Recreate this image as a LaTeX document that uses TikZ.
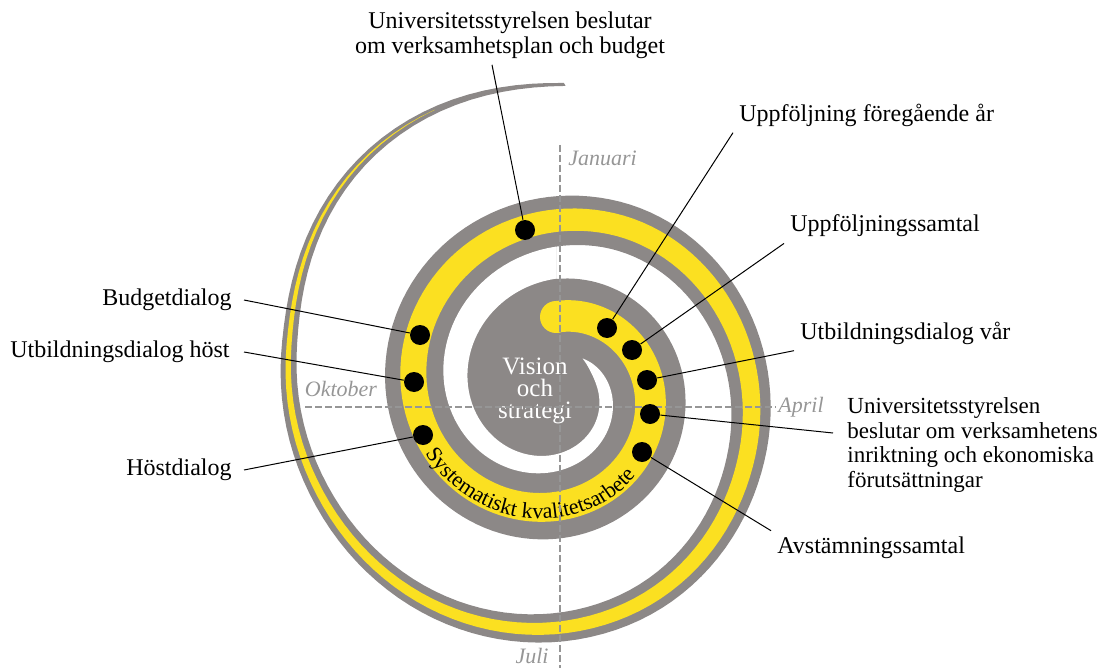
\documentclass[tikz,border=0pt]{standalone}
\usepackage{fontspec}
\setmainfont{Liberation Serif}
\usepackage{tikz}
\usetikzlibrary{decorations.text}
\definecolor{spiralgray}{RGB}{140,136,135}
\definecolor{spiralyellow}{RGB}{251,224,33}
\definecolor{monthgray}{RGB}{150,150,150}
\tikzstyle{lbl} = [font=\fontsize{12}{12.5}\selectfont, inner sep=3pt]
\tikzstyle{month} = [font=\fontsize{11}{11}\selectfont\itshape, text=monthgray, inner sep=1pt]
\tikzstyle{milestone} = [circle, fill=black, minimum size=10pt, inner sep=0pt]
\tikzstyle{leader} = [line width=0.5pt]
\tikzstyle{axis} = [monthgray, line width=0.6pt, dash pattern=on 3.5pt off 1.5pt]

\begin{document}
\begin{tikzpicture}[x=0.5pt, y=-0.5pt,
    declare function={
      bump(\u,\c,\w) = max(0,1-(\u-\c)*(\u-\c)/(\w*\w));
      rc(\u) = 73+19.3*\u+1.2*\u*\u+13*bump(\u,7.6,0.5)^2-5*bump(\u,5,0.8)^2+6*bump(\u,6,0.8)^2;
      hw(\u) = max(0,16-0.2*\u-0.24*\u*\u);
      gout(\u) = 38-2.2*\u-0.3*\u*\u;
      gin(\u) = 42-3*\u-0.25*\u*\u;
      cw(\u) = 14*tanh(2.5*(\u-0.45))+4.5*ln(1+exp(2*(\u-2)));
    }]
  \useasboundingbox (0,0) rectangle (1107,668);
  % spiral, one turn = 4 units of \x
  \begin{scope}[shift={(556,390)}]
    \fill[spiralgray] plot[domain=0:8.02, samples=241] ({90*\x-90}:{rc(\x)+gout(\x)})
      -- plot[domain=8.02:4, samples=121] ({90*\x-90}:{rc(\x)-gin(\x)}) -- cycle;
    \fill[white] plot[domain=0.45:4, samples=100] ({90*\x-90}:{rc(\x)-gin(\x)-cw(\x)})
      -- plot[domain=4:0.45, samples=100] ({90*\x-90}:{rc(\x)-gin(\x)}) -- cycle;
    \fill[spiralyellow] plot[domain=0:7.74, samples=233] ({90*\x-90}:{rc(\x)+hw(\x)})
      -- plot[domain=7.74:0, samples=233] ({90*\x-90}:{rc(\x)-hw(\x)}) -- cycle;
    \fill[spiralyellow] (-90:73) circle (16);
    \path[decorate, decoration={text along path, text align=left,
        text={|\fontsize{11}{12}\selectfont|Systematiskt kvalitetsarbete}}]
      plot[domain=2.71:1.0, samples=50] ({90*\x-90}:{rc(\x)+hw(\x)-3});
  \end{scope}

  \node[text=white, align=center, font=\fontsize{12.5}{11}\selectfont] (vision) at (535,391) {Vision\\och\\strategi};

  % months
  \node[month, anchor=west] (jan) at (566,158) {Januari};
  \node[month, anchor=west] (apr) at (776,407) {April};
  \node[month] (jul) at (532,656) {Juli};
  \node[month] (okt) at (341,389) {Oktober};
  \draw[axis] (560,145) -- (560,668);
  \draw[axis] (305,407) -- (apr.west);

  % milestones
  \node[milestone] (dtop) at (525,230) {};
  \node[milestone] (dbudg) at (420,335) {};
  \node[milestone] (dutbh) at (414,382) {};
  \node[milestone] (dhost) at (423,435) {};
  \node[milestone] (dfore) at (607,328) {};
  \node[milestone] (dupps) at (632,350) {};
  \node[milestone] (dutbv) at (647,380) {};
  \node[milestone] (dusinr) at (650,414) {};
  \node[milestone] (davst) at (642,452) {};

  % labels
  \node[lbl, align=center] (usplan) at (510,35) {Universitetsstyrelsen beslutar\\om verksamhetsplan och budget};
  \node[lbl, anchor=west] (uppfore) at (733,115) {Uppföljning föregående år};
  \node[lbl, anchor=west] (uppsamt) at (784,226) {Uppföljningssamtal};
  \node[lbl, anchor=west] (utbvar) at (794,333) {Utbildningsdialog vår};
  \node[lbl, anchor=west, align=left, font=\fontsize{11.5}{12.3}\selectfont] (usinr) at (841,445) {Universitetsstyrelsen\\beslutar om verksamhetens\\inriktning och ekonomiska\\förutsättningar};
  \node[lbl, anchor=west] (avst) at (771,548) {Avstämningssamtal};
  \node[lbl, anchor=east] (budg) at (238,300) {Budgetdialog};
  \node[lbl, anchor=east] (utbhost) at (236,352) {Utbildningsdialog höst};
  \node[lbl, anchor=east] (host) at (238,470) {Höstdialog};

  \draw[leader] ([xshift=-9pt]usplan.south) -- (dtop);
  \draw[leader] (uppfore.south west) -- (dfore);
  \draw[leader] (uppsamt.south west) -- (dupps);
  \draw[leader] (utbvar.south west) -- (dutbv);
  \draw[leader] ([xshift=-4pt,yshift=6pt]usinr.west) -- (dusinr);
  \draw[leader] (avst.north west) -- (davst);
  \draw[leader] ([xshift=3pt]budg.east) -- (dbudg);
  \draw[leader] ([xshift=4pt]utbhost.east) -- (dutbh);
  \draw[leader] ([xshift=3pt]host.east) -- (dhost);
\end{tikzpicture}
\end{document}
